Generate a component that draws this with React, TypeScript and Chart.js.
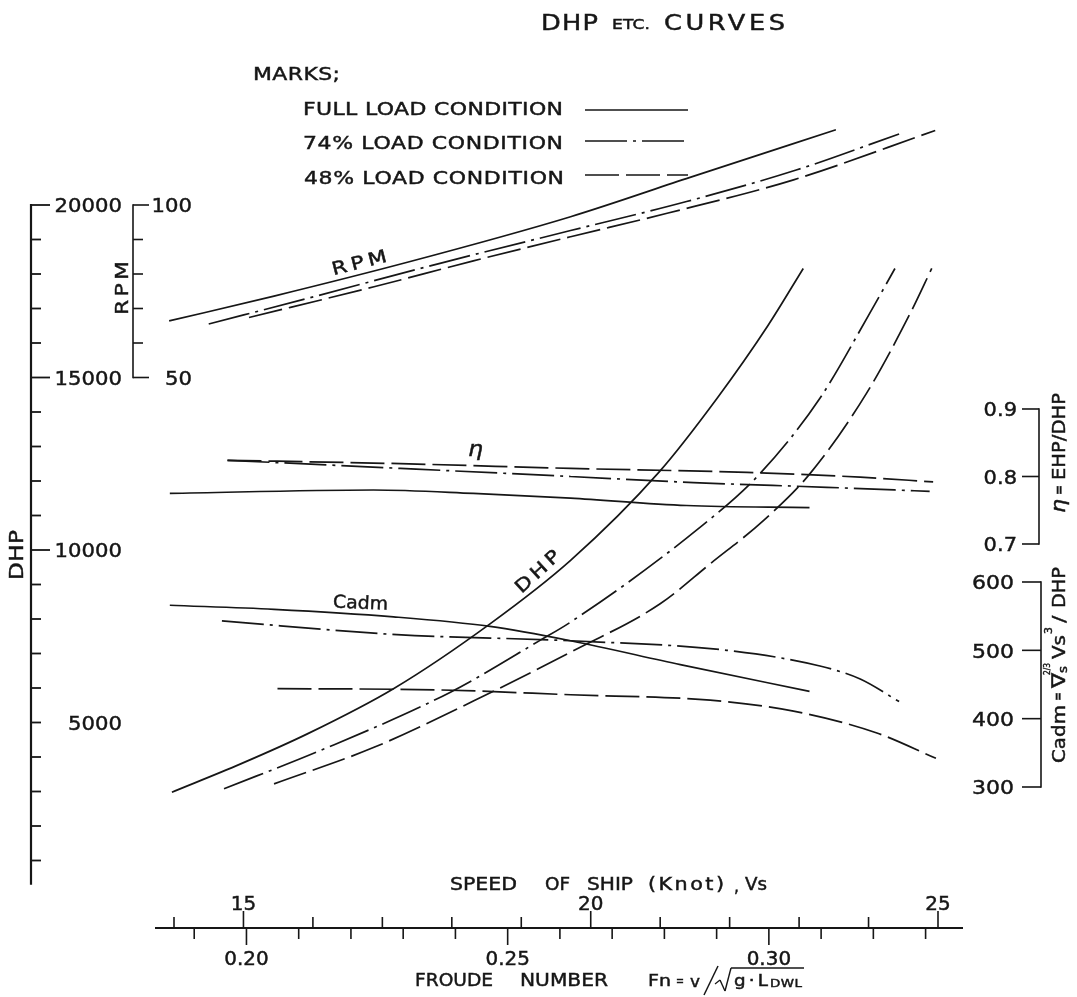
import React, { useEffect, useRef } from "react";
import { Chart, registerables } from "chart.js";
Chart.register(...registerables);

const W = 1077;
const H = 997;
const INK = "#161616";
const FONT = '"DejaVu Sans", sans-serif';

// ---------------- data (speed in knots) ----------------
const RPM_FULL_V = [13.93, 15.44, 17.36, 19.71, 21.43, 23.53];
const RPM_FULL = [66.4, 73.6, 83.4, 96.6, 108.0, 121.8];
const RPM_74_V = [14.5, 16.01, 17.83, 19.71, 21.38, 22.97, 24.44];
const RPM_74 = [65.5, 73.4, 83.1, 92.6, 101.0, 110.2, 120.6];
const RPM_48_V = [15.08, 16.88, 18.31, 19.71, 21.1, 22.92, 24.96];
const RPM_48 = [67.4, 76.3, 83.8, 90.8, 97.6, 107.3, 121.6];

const ETA_FULL_V = [13.94, 16.87, 18.31, 19.71, 21.38, 23.15];
const ETA_FULL = [0.775, 0.78, 0.775, 0.768, 0.757, 0.754];
const ETA_74_V = [14.77, 17.26, 19.71, 21.48, 23.4, 24.88];
const ETA_74 = [0.824, 0.812, 0.8, 0.791, 0.784, 0.778];
const ETA_48_V = [14.77, 17.26, 19.71, 22.25, 23.88, 24.93];
const ETA_48 = [0.824, 0.819, 0.812, 0.806, 0.799, 0.792];

const CADM_FULL_V = [13.94, 15.44, 17.16, 18.55, 19.71, 21.29, 23.15];
const CADM_FULL = [566, 560, 549, 535, 514, 479, 440];
const CADM_74_V = [14.69, 17.21, 19.71, 21.96, 23.3, 23.88, 24.44];
const CADM_74 = [543, 523, 514, 500, 477, 458, 425];
const CADM_48_V = [15.49, 17.84, 19.71, 21.72, 22.92, 24.12, 24.97];
const CADM_48 = [444, 442, 435, 427, 411, 379, 342];

const DHP_FULL_V = [13.97, 14.96, 15.92, 17.16, 18.55, 19.71, 20.98, 21.82, 22.55, 23.06];
const DHP_FULL = [2980, 3800, 4670, 5980, 7860, 9700, 12250, 14400, 16500, 18160];
const DHP_74_V = [14.72, 16.11, 17.98, 19.27, 19.71, 21.55, 22.44, 23.3, 24.0, 24.38];
const DHP_74 = [3080, 4190, 5880, 7380, 7910, 10620, 12220, 14400, 16800, 18160];
const DHP_48_V = [15.44, 16.88, 18.31, 19.71, 21.0, 21.72, 22.49, 23.16, 23.97, 24.6, 24.91];
const DHP_48 = [3220, 4280, 5620, 7040, 8440, 9600, 10860, 12220, 14540, 16860, 18160];

// ---------------- axes / ticks ----------------
const SPEED_TICKS = [14, 15, 16, 17, 18, 19, 20, 21, 22, 23, 24, 25];
const SPEED_LABELS = [15, 20, 25];
const FROUDE_TICKS = [0.19, 0.2, 0.21, 0.22, 0.23, 0.24, 0.25, 0.26, 0.27, 0.28, 0.29, 0.3, 0.31, 0.32, 0.33];
const FROUDE_LABELS = ["0.20", "0.25", "0.30"];
const FN_PER_KNOT = 0.013295;
const DHP_TICKS = Array.from({ length: 20 }, (_, i) => (i + 1) * 1000);
const DHP_LABELS = [5000, 10000, 15000, 20000];
const DHP_LONG = [10000, 15000, 20000];
const RPM_TICKS = [50, 60, 70, 80, 90, 100];
const RPM_LABELS = [50, 100];
const ETA_TICKS = [0.7, 0.8, 0.9];
const ETA_LABELS = ["0.7", "0.8", "0.9"];
const CADM_TICKS = [300, 400, 500, 600];

const LEGEND_ITEMS = ["FULL LOAD CONDITION", "74% LOAD CONDITION", "48% LOAD CONDITION"];
const DASHES: number[][] = [[], [42, 6, 3, 6], [34, 7]];

// ---------------- text helpers ----------------
function setFont(ctx: CanvasRenderingContext2D, size: number, italic = false) {
  ctx.font = `${italic ? "italic " : ""}${size}px ${FONT}`;
  (ctx as any).letterSpacing = "0px";
}
function natW(ctx: CanvasRenderingContext2D, s: string, size: number) {
  setFont(ctx, size);
  return ctx.measureText(s).width;
}
// caps text, visual centre at cy, left edge at left; fitted to width by widening glyphs then spacing
function fit(ctx: CanvasRenderingContext2D, s: string, left: number, cy: number, size: number, width?: number, italic = false, maxStretch = 1.22) {
  setFont(ctx, size, italic);
  const w0 = ctx.measureText(s).width;
  let sx = 1;
  let ls = 0;
  if (width !== undefined) {
    const r = width / w0;
    if (r < 1) sx = r;
    else {
      sx = Math.min(r, maxStretch);
      if (s.length > 1) ls = (width / sx - w0) / (s.length - 1);
    }
  }
  ctx.save();
  ctx.translate(left, cy + size * 0.365);
  ctx.scale(sx, 1);
  (ctx as any).letterSpacing = `${ls}px`;
  ctx.textAlign = "left";
  ctx.textBaseline = "alphabetic";
  ctx.fillText(s, 0, 0);
  ctx.lineWidth = 0.45;
  ctx.strokeText(s, 0, 0);
  ctx.restore();
  (ctx as any).letterSpacing = "0px";
}
function numRight(ctx: CanvasRenderingContext2D, s: string, right: number, cy: number, size: number, stretch = 1.1) {
  const w = natW(ctx, s, size) * stretch;
  fit(ctx, s, right - w, cy, size, w);
}
function numCenter(ctx: CanvasRenderingContext2D, s: string, cx: number, cy: number, size: number, stretch = 1.1) {
  const w = natW(ctx, s, size) * stretch;
  fit(ctx, s, cx - w / 2, cy, size, w);
}
function rotated(ctx: CanvasRenderingContext2D, cx: number, cy: number, ang: number, fn: () => void) {
  ctx.save();
  ctx.translate(cx, cy);
  ctx.rotate(ang);
  fn();
  ctx.restore();
}
function seg(ctx: CanvasRenderingContext2D, x1: number, y1: number, x2: number, y2: number, lw = 1.6, dash: number[] = []) {
  ctx.beginPath();
  ctx.setLineDash(dash);
  ctx.lineWidth = lw;
  ctx.moveTo(x1, y1);
  ctx.lineTo(x2, y2);
  ctx.stroke();
  ctx.setLineDash([]);
}

const decor = {
  id: "decor",
  afterDraw(chart: any) {
    const ctx: CanvasRenderingContext2D = chart.ctx;
    const X = chart.scales.x;
    const D = chart.scales.yD;
    const R = chart.scales.yR;
    const E = chart.scales.yE;
    const C = chart.scales.yC;
    ctx.save();
    ctx.strokeStyle = INK;
    ctx.fillStyle = INK;
    ctx.lineCap = "butt";

    // ---- title ----
    fit(ctx, "DHP", 541, 22, 21, 57);
    fit(ctx, "ETC.", 612, 24, 14, 38);
    fit(ctx, "CURVES", 664, 22, 21, 121);

    // ---- legend ----
    fit(ctx, "MARKS;", 253, 73, 18, 87);
    const rowsY = [108, 142, 177];
    const linesY = [110, 141, 175];
    LEGEND_ITEMS.forEach((t, i) => {
      fit(ctx, t, 303 + (i === 2 ? 1 : 0), rowsY[i], 18, 260);
      seg(ctx, 585, linesY[i], 688, linesY[i], 1.6, DASHES[i]);
    });

    // ---- DHP axis ----
    const dX = 31;
    seg(ctx, dX, D.getPixelForValue(20000) - 1, dX, D.getPixelForValue(300), 2.2);
    DHP_TICKS.forEach((v) => {
      const y = D.getPixelForValue(v);
      const len = DHP_LONG.includes(v) ? 19 : 10;
      seg(ctx, dX, y, dX + len, y, 1.8);
    });
    DHP_LABELS.forEach((v) => numRight(ctx, String(v), 122, D.getPixelForValue(v), 20, 1.06));
    rotated(ctx, 16, 555, -Math.PI / 2, () => fit(ctx, "DHP", -25, 0, 19, 50));

    // ---- RPM axis ----
    const rX = 133;
    seg(ctx, rX, R.getPixelForValue(100) - 0.8, rX, R.getPixelForValue(50) + 0.8, 1.6);
    RPM_TICKS.forEach((v) => {
      const y = R.getPixelForValue(v);
      const len = RPM_LABELS.includes(v) ? 16 : 10;
      seg(ctx, rX, y, rX + len, y, 1.6);
    });
    RPM_LABELS.forEach((v) => numRight(ctx, String(v), 192, R.getPixelForValue(v), 20, 1.06));
    rotated(ctx, 121, 288, -Math.PI / 2, () => fit(ctx, "RPM", -27, 0, 18, 54));

    // ---- eta axis ----
    const eX = 1039;
    seg(ctx, eX, E.getPixelForValue(0.9) - 0.8, eX, E.getPixelForValue(0.7) + 0.8, 1.6);
    ETA_TICKS.forEach((v, i) => {
      const y = E.getPixelForValue(v);
      seg(ctx, eX - 17, y, eX, y, 1.6);
      numRight(ctx, ETA_LABELS[i], 1017, y, 20, 1.05);
    });
    rotated(ctx, 1058, 453, -Math.PI / 2, () => {
      fit(ctx, "η", -60, 0, 20, 14, true);
      fit(ctx, "=", -42, 0, 16, 10);
      fit(ctx, "EHP/DHP", -27, 0, 18, 87);
    });

    // ---- Cadm axis ----
    const cX = 1041;
    seg(ctx, cX, C.getPixelForValue(600) - 0.8, cX, C.getPixelForValue(300) + 0.8, 1.6);
    CADM_TICKS.forEach((v) => {
      const y = C.getPixelForValue(v);
      seg(ctx, cX - 19, y, cX, y, 1.6);
      numRight(ctx, String(v), 1014, y, 20, 1.1);
    });
    rotated(ctx, 1058, 665, -Math.PI / 2, () => {
      fit(ctx, "Cadm", -98, 0, 18, 58);
      fit(ctx, "=", -36, 0, 15, 9);
      fit(ctx, "∇", -23, 0, 19, 15);
      fit(ctx, "s", -8, 5, 12, 7);
      fit(ctx, "2/3", -10, -11, 9, 12);
      fit(ctx, "Vs", 6, 0, 18, 24);
      fit(ctx, "3", 31, -10, 11, 7);
      fit(ctx, "/", 42, 0, 18, 8);
      fit(ctx, "DHP", 57, 0, 18, 41);
    });

    // ---- bottom double axis ----
    const bY = 928;
    seg(ctx, 155, bY, 963, bY, 1.8);
    SPEED_TICKS.forEach((v) => {
      const x = X.getPixelForValue(v);
      const len = SPEED_LABELS.includes(v) ? 17 : 11;
      seg(ctx, x, bY, x, bY - len, 1.6);
    });
    SPEED_LABELS.forEach((v) => numCenter(ctx, String(v), X.getPixelForValue(v), 903, 19, 1.05));
    FROUDE_TICKS.forEach((f) => {
      const x = X.getPixelForValue(f / FN_PER_KNOT);
      const lab = FROUDE_LABELS.includes(f.toFixed(2));
      seg(ctx, x, bY, x, bY + (lab ? 17 : 11), 1.6);
    });
    FROUDE_LABELS.forEach((s) =>
      numCenter(ctx, s, X.getPixelForValue(parseFloat(s) / FN_PER_KNOT), 958, 19, 1.05)
    );
    fit(ctx, "SPEED", 450, 884, 17, 67);
    fit(ctx, "OF", 545, 884, 17, 25);
    fit(ctx, "SHIP", 587, 884, 17, 46);
    fit(ctx, "(Knot)", 648, 884, 17, 76);
    fit(ctx, ",", 734, 886, 17, 5);
    fit(ctx, "Vs", 745, 884, 17, 22);
    fit(ctx, "FROUDE", 415, 980, 17, 78);
    fit(ctx, "NUMBER", 520, 980, 17, 88);
    // Fn = v / sqrt(g . L_DWL)
    fit(ctx, "Fn", 648, 980, 16, 23);
    fit(ctx, "=", 676, 980, 13, 8);
    fit(ctx, "v", 690, 981, 16, 10);
    seg(ctx, 704, 995, 718, 966, 1.5);
    seg(ctx, 715, 984, 720, 980, 1.3);
    seg(ctx, 720, 980, 725, 991, 1.4);
    seg(ctx, 725, 991, 731, 968, 1.4);
    seg(ctx, 731, 968, 804, 968, 1.4);
    fit(ctx, "g·L", 734, 981, 15, 34);
    fit(ctx, "DWL", 770, 983, 11, 32);

    // ---- in-plot labels ----
    rotated(ctx, 359, 262, -0.25, () => fit(ctx, "RPM", -28, 0, 18, 56));
    fit(ctx, "η", 468, 448, 21, 15, true);
    rotated(ctx, 361, 602, 0.04, () => fit(ctx, "Cadm", -28, 0, 18, 55));
    rotated(ctx, 537, 571, -0.74, () => fit(ctx, "DHP", -27, 0, 18, 54));

    ctx.restore();
  },
};

function mk(vs: number[], ys: number[], axis: string, style: number) {
  return {
    data: vs.map((v, i) => ({ x: v, y: ys[i] })),
    yAxisID: axis,
    borderColor: INK,
    borderWidth: 1.7,
    borderDash: DASHES[style],
    pointRadius: 0,
    fill: false,
    cubicInterpolationMode: "monotone" as const,
    clip: false as any,
  };
}

export default function App() {
  const ref = useRef<HTMLCanvasElement>(null);
  useEffect(() => {
    const canvas = ref.current!;
    const chart = new Chart(canvas, {
      type: "line",
      data: {
        datasets: [
          mk(RPM_FULL_V, RPM_FULL, "yR", 0),
          mk(RPM_74_V, RPM_74, "yR", 1),
          mk(RPM_48_V, RPM_48, "yR", 2),
          mk(ETA_FULL_V, ETA_FULL, "yE", 0),
          mk(ETA_74_V, ETA_74, "yE", 1),
          mk(ETA_48_V, ETA_48, "yE", 2),
          mk(CADM_FULL_V, CADM_FULL, "yC", 0),
          mk(CADM_74_V, CADM_74, "yC", 1),
          mk(CADM_48_V, CADM_48, "yC", 2),
          mk(DHP_FULL_V, DHP_FULL, "yD", 0),
          mk(DHP_74_V, DHP_74, "yD", 1),
          mk(DHP_48_V, DHP_48, "yD", 2),
        ] as any,
      },
      options: {
        responsive: false,
        animation: false,
        events: [],
        layout: { padding: { left: 174, right: 139, top: 205, bottom: 102 } },
        plugins: { legend: { display: false }, tooltip: { enabled: false }, title: { display: false } },
        scales: {
          x: { type: "linear", min: 14, max: 25, display: false },
          yD: { type: "linear", position: "left", min: 0, max: 20000, display: false },
          yR: { type: "linear", position: "left", min: -100, max: 100, display: false },
          yE: { type: "linear", position: "right", min: 0.18, max: 1.2022, display: false },
          yC: { type: "linear", position: "right", min: 141.95, max: 1151.7, display: false },
        },
      },
      plugins: [decor],
    });
    return () => chart.destroy();
  }, []);
  return (
    <div style={{ position: "absolute", left: 0, top: 0, width: W, height: H, background: "#fff" }}>
      <canvas ref={ref} width={W} height={H} style={{ display: "block", width: W, height: H }} />
    </div>
  );
}
